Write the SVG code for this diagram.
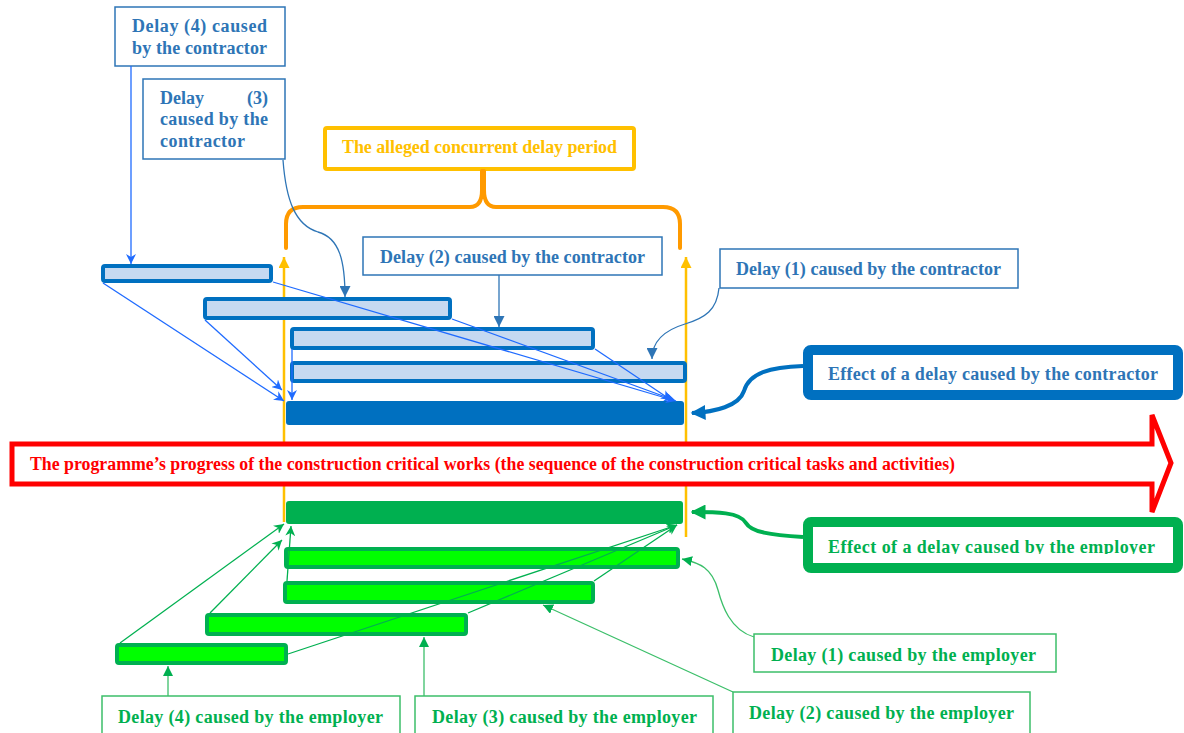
<svg xmlns="http://www.w3.org/2000/svg" width="1184" height="733" viewBox="0 0 1184 733">
  <style>
    text { font-family: "Liberation Serif", "Times New Roman", serif; font-weight: bold; font-size: 18px; }
    .tb { fill: #2E75B6; }
    .tg { fill: #00B050; }
    .box-b { fill: #FFFFFF; stroke: #2E75B6; stroke-width: 1.5; }
    .box-g { fill: #FFFFFF; stroke: #3CBF6A; stroke-width: 1.5; }
    .bar-b { fill: #C5D9F1; stroke: #0070C0; stroke-width: 4; }
    .bar-g { fill: #00FF00; stroke: #00B050; stroke-width: 4; }
    .ln-bright { fill: none; stroke: #1F6BFF; stroke-width: 1.3; }
    .ln-steel { fill: none; stroke: #2E75B6; stroke-width: 1.3; }
    .ln-green { fill: none; stroke: #00B050; stroke-width: 1.3; }
    .ln-green2 { fill: none; stroke: #3CBF6A; stroke-width: 1.3; }
    .thick-b { fill: none; stroke: #0070C0; stroke-width: 4; }
    .thick-g { fill: none; stroke: #00B050; stroke-width: 4; }
    .yline { fill: none; stroke: #FFC000; stroke-width: 2.5; }
  </style>
  <defs>
    <marker id="arBright" viewBox="0 0 10 10" refX="10" refY="5" markerWidth="10" markerHeight="10" markerUnits="userSpaceOnUse" orient="auto">
      <path d="M0,0 L10,5 L0,10 L3,5 z" fill="#1F6BFF"/>
    </marker>
    <marker id="arSteel" viewBox="0 0 10 10" refX="10" refY="5" markerWidth="11" markerHeight="11" markerUnits="userSpaceOnUse" orient="auto">
      <path d="M0,0 L10,5 L0,10 z" fill="#2E75B6"/>
    </marker>
    <marker id="arGreen" viewBox="0 0 10 10" refX="10" refY="5" markerWidth="10" markerHeight="10" markerUnits="userSpaceOnUse" orient="auto">
      <path d="M0,0 L10,5 L0,10 z" fill="#00B050"/>
    </marker>
    <marker id="arGreenOpen" viewBox="0 0 10 10" refX="10" refY="5" markerWidth="10" markerHeight="10" markerUnits="userSpaceOnUse" orient="auto">
      <path d="M0,0 L10,5 L0,10 L3,5 z" fill="#00B050"/>
    </marker>
    <marker id="arThickB" viewBox="0 0 10 10" refX="9" refY="5" markerWidth="15" markerHeight="15" markerUnits="userSpaceOnUse" orient="auto">
      <path d="M0,0 L10,5 L0,10 z" fill="#0070C0"/>
    </marker>
    <marker id="arThickG" viewBox="0 0 10 10" refX="9" refY="5" markerWidth="15" markerHeight="15" markerUnits="userSpaceOnUse" orient="auto">
      <path d="M0,0 L10,5 L0,10 z" fill="#00B050"/>
    </marker>
    <marker id="arYellow" viewBox="0 0 10 10" refX="10" refY="5" markerWidth="12" markerHeight="11" markerUnits="userSpaceOnUse" orient="auto">
      <path d="M0,0 L10,5 L0,10 z" fill="#FFC000"/>
    </marker>
    <clipPath id="clipEmp">
      <rect x="815" y="528" width="360" height="26"/>
    </clipPath>
  </defs>

  <!-- concurrent delay period: title box, brace and boundary lines -->
  <g id="period">
    <rect x="325" y="128" width="309" height="41" fill="#FFFFFF" stroke="#FFC000" stroke-width="4" rx="2"/>
    <text x="342" y="153" fill="#FFC000" textLength="275">The alleged concurrent delay period</text>
    <path d="M286,248 V224 Q286,207 303,207 H470 Q482,207 482,190 V171 M484,171 V190 Q484,207 496,207 H663 Q680,207 680,224 V248" fill="none" stroke="#FF9A00" stroke-width="4" stroke-linecap="round"/>
    <line class="yline" x1="284" y1="522" x2="284" y2="257" marker-end="url(#arYellow)"/>
    <line class="yline" x1="686" y1="537" x2="686" y2="257" marker-end="url(#arYellow)"/>
  </g>

  <!-- contractor delay bars -->
  <g id="c-bar4"><rect class="bar-b" x="103" y="266" width="168" height="15" rx="2"/></g>
  <g id="c-bar3"><rect class="bar-b" x="205" y="299" width="245" height="19" rx="2"/></g>
  <g id="c-bar2"><rect class="bar-b" x="292" y="329" width="301" height="19" rx="2"/></g>
  <g id="c-bar1"><rect class="bar-b" x="292" y="363" width="393" height="18" rx="2"/></g>
  <g id="c-effect-bar"><rect x="286" y="401" width="398" height="24" rx="3" fill="#0070C0"/></g>

  <!-- employer delay bars -->
  <g id="e-effect-bar"><rect x="286" y="501" width="397" height="23" rx="3" fill="#00B050"/></g>
  <g id="e-bar1"><rect class="bar-g" x="286" y="549" width="392" height="18" rx="2"/></g>
  <g id="e-bar2"><rect class="bar-g" x="285" y="583" width="308" height="19" rx="2"/></g>
  <g id="e-bar3"><rect class="bar-g" x="207" y="615" width="259" height="19" rx="2"/></g>
  <g id="e-bar4"><rect class="bar-g" x="117" y="645" width="169" height="18" rx="2"/></g>

  <!-- programme progress arrow -->
  <g id="progress">
    <polygon points="12,444 1152,444 1152,415 1171,463 1152,512 1152,484 12,484" fill="#FFFFFF" stroke="#FF0000" stroke-width="5" stroke-linejoin="miter"/>
    <text x="30" y="470" fill="#FF0000" font-size="17" textLength="925" lengthAdjust="spacingAndGlyphs">The programme’s progress of the construction critical works (the sequence of the construction critical tasks and activities)</text>
  </g>

  <!-- contractor labels -->
  <g id="c-label4">
    <rect class="box-b" x="115" y="7" width="170" height="59"/>
    <text class="tb" x="132" y="32" textLength="135">Delay (4) caused</text>
    <text class="tb" x="132" y="54" textLength="135">by the contractor</text>
  </g>
  <g id="c-label3">
    <rect class="box-b" x="143" y="79" width="142" height="80"/>
    <text class="tb" x="160" y="104">Delay</text>
    <text class="tb" x="268" y="104" text-anchor="end">(3)</text>
    <text class="tb" x="160" y="125" textLength="108">caused by the</text>
    <text class="tb" x="160" y="147" textLength="85">contractor</text>
  </g>
  <g id="c-label2">
    <rect class="box-b" x="363" y="237" width="299" height="38"/>
    <text class="tb" x="380" y="263" textLength="265">Delay (2) caused by the contractor</text>
  </g>
  <g id="c-label1">
    <rect class="box-b" x="720" y="249" width="298" height="39"/>
    <text class="tb" x="736" y="275" textLength="265">Delay (1) caused by the contractor</text>
  </g>
  <g id="c-effect-label">
    <rect x="808" y="350" width="370" height="45" rx="3" fill="#FFFFFF" stroke="#0070C0" stroke-width="10"/>
    <text class="tb" x="828" y="380" textLength="330">Effect of a delay caused by the contractor</text>
  </g>

  <!-- employer labels -->
  <g id="e-effect-label">
    <rect x="808" y="522" width="370" height="46" rx="3" fill="#FFFFFF" stroke="#00B050" stroke-width="10"/>
    <text class="tg" x="828" y="553" textLength="327" clip-path="url(#clipEmp)">Effect of a delay caused by the employer</text>
  </g>
  <g id="e-label1">
    <rect class="box-g" x="754" y="634" width="302" height="38"/>
    <text class="tg" x="771" y="661" textLength="265">Delay (1) caused by the employer</text>
  </g>
  <g id="e-label2">
    <rect class="box-g" x="733" y="692" width="297" height="48"/>
    <text class="tg" x="749" y="719" textLength="265">Delay (2) caused by the employer</text>
  </g>
  <g id="e-label3">
    <rect class="box-g" x="415" y="696" width="298" height="44"/>
    <text class="tg" x="432" y="723" textLength="265">Delay (3) caused by the employer</text>
  </g>
  <g id="e-label4">
    <rect class="box-g" x="102" y="696" width="298" height="44"/>
    <text class="tg" x="118" y="723" textLength="265">Delay (4) caused by the employer</text>
  </g>

  <!-- connectors -->
  <g id="connectors">
    <!-- labels to contractor bars -->
    <line class="ln-bright" x1="131" y1="66" x2="131" y2="264" marker-end="url(#arBright)"/>
    <path class="ln-steel" d="M283,160 C286,200 295,225 318,232 C340,238 345,262 345,297" marker-end="url(#arSteel)"/>
    <line class="ln-steel" x1="499" y1="275" x2="499" y2="327" marker-end="url(#arSteel)"/>
    <path class="ln-steel" d="M719,288 C717,310 705,318 685,324 C665,330 652,340 652,359" marker-end="url(#arSteel)"/>
    <path class="thick-b" d="M803,366 C770,367 749,373 744,391 C739,406 715,412 692,413" marker-end="url(#arThickB)"/>

    <!-- contractor bars to their combined effect -->
    <line class="ln-bright" x1="103" y1="283" x2="284" y2="401" marker-end="url(#arBright)"/>
    <line class="ln-bright" x1="205" y1="320" x2="282" y2="390" marker-end="url(#arBright)"/>
    <line class="ln-bright" x1="292" y1="349" x2="292" y2="400" marker-end="url(#arBright)"/>
    <line class="ln-bright" x1="273" y1="282" x2="676" y2="401" marker-end="url(#arBright)"/>
    <line class="ln-bright" x1="452" y1="319" x2="674" y2="400" marker-end="url(#arBright)"/>
    <line class="ln-bright" x1="595" y1="349" x2="671" y2="400" marker-end="url(#arBright)"/>

    <!-- employer bars to their combined effect -->
    <line class="ln-green" x1="120" y1="643" x2="284" y2="524" marker-end="url(#arGreenOpen)"/>
    <line class="ln-green" x1="210" y1="613" x2="282" y2="540" marker-end="url(#arGreenOpen)"/>
    <line class="ln-green" x1="287" y1="581" x2="291" y2="526" marker-end="url(#arGreenOpen)"/>
    <line class="ln-green" x1="288" y1="654" x2="677" y2="525" marker-end="url(#arGreenOpen)"/>
    <line class="ln-green" x1="468" y1="613" x2="677" y2="525" marker-end="url(#arGreenOpen)"/>
    <line class="ln-green" x1="594" y1="581" x2="677" y2="525" marker-end="url(#arGreenOpen)"/>

    <!-- labels to employer bars -->
    <path class="thick-g" d="M803,537 C770,535 751,532 746,523 C740,512 716,512 692,512" marker-end="url(#arThickG)"/>
    <path class="ln-green2" d="M754,637 C730,630 722,605 718,590 C712,568 700,563 682,559" marker-end="url(#arGreen)"/>
    <line class="ln-green2" x1="733" y1="692" x2="543" y2="605" marker-end="url(#arGreen)"/>
    <line class="ln-green2" x1="424" y1="696" x2="424" y2="637" marker-end="url(#arGreen)"/>
    <line class="ln-green2" x1="168" y1="696" x2="168" y2="666" marker-end="url(#arGreen)"/>
  </g>
</svg>
